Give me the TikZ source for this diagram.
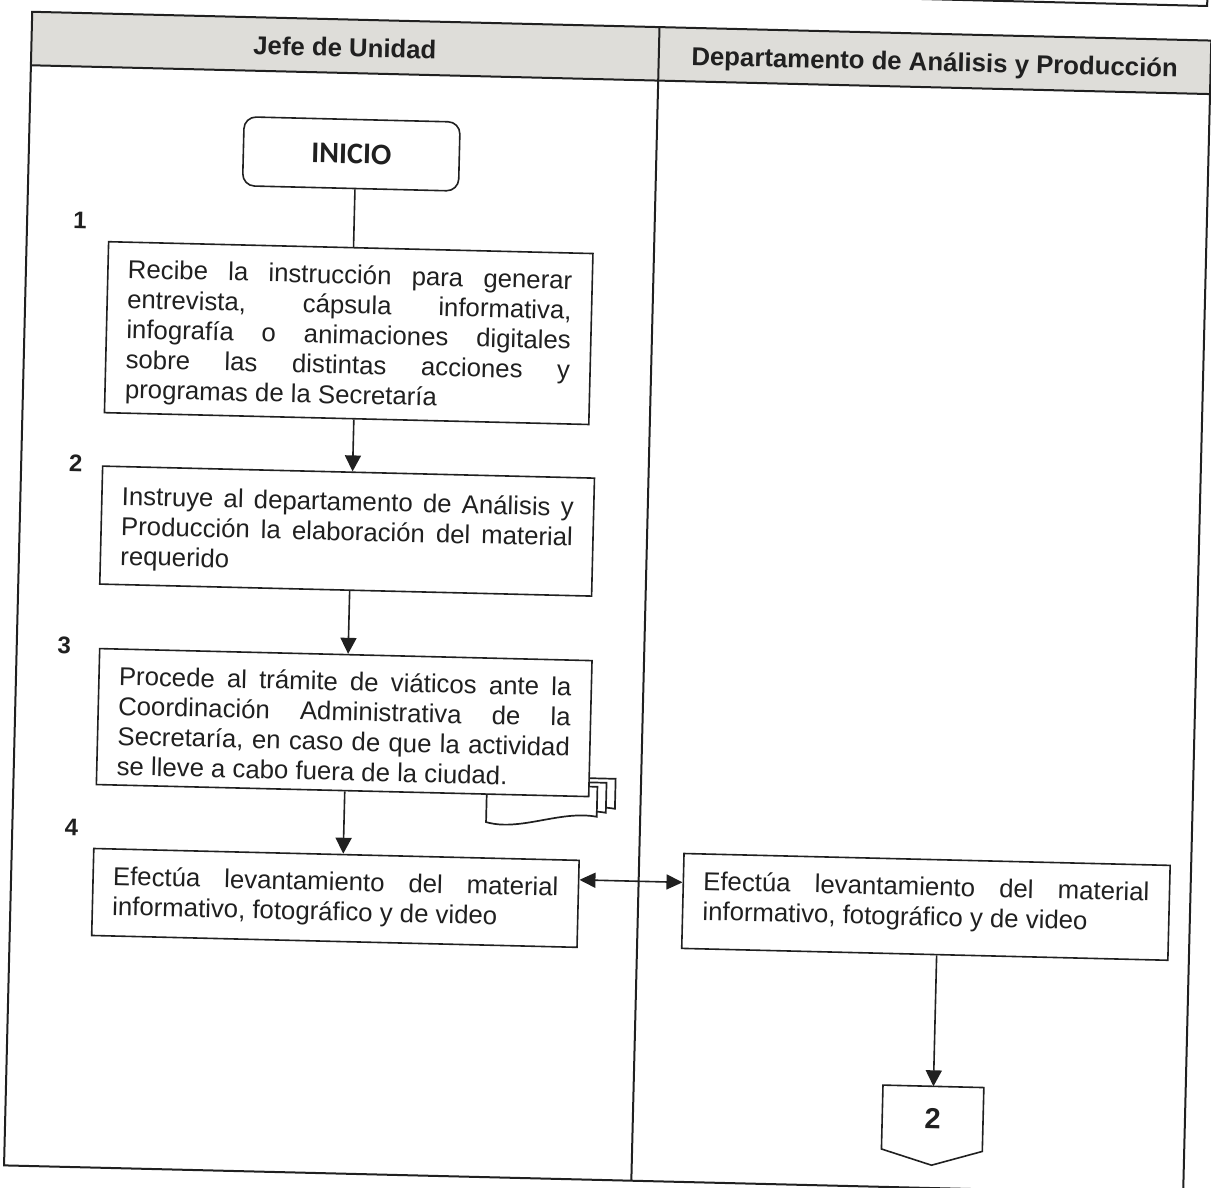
\documentclass[tikz,border=0pt]{standalone}
\usepackage{fontspec}
\setmainfont{Liberation Sans}
\newfontfamily\calibrifont{Carlito}
\usetikzlibrary{arrows.meta,calc}
\definecolor{ink}{RGB}{32,32,32}
\definecolor{hdr}{RGB}{222,221,217}
\newcommand{\boxtext}[4]{\parbox[c][#2pt][t]{#1pt}{\fontsize{25.75pt}{30pt}\selectfont\tolerance=10000\hbadness=10000\hyphenpenalty=10000\rule{0pt}{#3pt}#4}}
\begin{document}
\begin{tikzpicture}[x=1pt,y=1pt,
  lane/.style={draw=ink, line width=2pt},
  stepbox/.style={draw=ink, line width=1.6pt, fill=white, inner xsep=20pt, inner ysep=0pt, text=ink},
  stepnum/.style={font=\fontsize{24pt}{28pt}\selectfont\bfseries, text=ink},
  hdrtext/.style={font=\fontsize{25.75pt}{30pt}\selectfont\bfseries, text=ink, text height=18.5pt, text depth=0pt, inner sep=0pt},
  plain/.style={draw=ink, line width=1.6pt},
  flow/.style={draw=ink, line width=1.6pt, -{Triangle[length=16pt,width=16pt]}},
  dflow/.style={draw=ink, line width=1.6pt, {Triangle[length=16pt,width=15pt]}-{Triangle[length=16pt,width=15pt]}},
  page/.style={fill=white, draw=ink, line width=1.7pt}
  ]
\useasboundingbox (0,0) rectangle (1211,-1188);
\fill[white] (0,0) rectangle (1211,-1188);
\clip (0,0) rectangle (1211,-1188);
\begin{scope}[rotate=-1.4, transform shape]
  % piece of the box above
  \draw[lane] (880,23.5) -- (1207,23.5) -- (1207,80);
  % swimlane frame
  \fill[hdr] (32.5,-11) rectangle (1212,-64.5);
  \draw[lane] (32.5,-11) rectangle (1212,-1165);
  \draw[lane] (32.5,-64.5) -- (1212,-64.5);
  \draw[lane] (660,-11) -- (660,-1165);
  \node[hdrtext] (h1) at (346,-39) {Jefe de Unidad};
  \node[hdrtext] (h2) at (936,-39) {Departamento de Análisis y Producción};
  % start
  \node[draw=ink, line width=1.6pt, rounded corners=12pt, minimum width=216pt, minimum height=69pt, inner sep=0pt, font=\calibrifont\bfseries\fontsize{30pt}{34pt}\selectfont, text=ink] (inicio) at (355,-145.3) {INICIO};
  % step numbers
  \node[stepnum] (n1) at (85.4,-218) {1};
  \node[stepnum] (n2) at (87.1,-461.5) {2};
  \node[stepnum] (n3) at (80.1,-643.4) {3};
  \node[stepnum] (n4) at (91.6,-825) {4};
  % boxes
  \node[stepbox] (b1) at (356.75,-324.5) {\boxtext{444.5}{171}{36.2}{Recibe la instrucción para generar\linebreak entrevista, cápsula informativa,\linebreak infografía o animaciones digitales\linebreak sobre las distintas acciones y\linebreak programas de la Secretaría}};
  \node[stepbox] (b2) at (360,-522.5) {\boxtext{452}{118}{38.5}{Instruye al departamento de Análisis y\linebreak Producción la elaboración del material\linebreak requerido}};
  % multidocument behind step 3
  \foreach \s in {2,1,0} {
    \begin{scope}[shift={(9*\s,4.2*\s)}]
      \path[page] (506,-772) -- (616.5,-772) -- (616.5,-802) .. controls (580,-796) and (540,-819) .. (506,-810) -- cycle;
    \end{scope}
  }
  \node[stepbox] (b3) at (361.75,-714) {\boxtext{452.5}{136}{36}{Procede al trámite de viáticos ante la\linebreak Coordinación Administrativa de la\linebreak Secretaría, en caso de que la actividad\linebreak se lleve a cabo fuera de la ciudad.}};
  \node[stepbox] (b4) at (357.25,-889.5) {\boxtext{445.5}{87}{36.2}{Efectúa levantamiento del material\linebreak informativo, fotográfico y de video}};
  \node[stepbox] (b5) at (947.85,-884.05) {\boxtext{446.3}{94.9}{36.2}{Efectúa levantamiento del material\linebreak informativo, fotográfico y de video}};
  % off-page connector
  \node[minimum width=100.5pt, minimum height=63.5pt, inner sep=0pt, font=\fontsize{29pt}{32pt}\selectfont\bfseries, text=ink] (conn) at (959.75,-1095.25) {2};
  \draw[plain] (conn.north west) -- (conn.north east) -- (conn.south east) -- ($(conn.south)+(0,-15)$) -- (conn.south west) -- cycle;
  % connectors
  \draw[plain] ($(inicio.south)+(4.5,0)$) -- ($(b1.north)+(2.75,0)$);
  \draw[flow] ($(b1.south)+(7.25,0)$) -- ($(b2.north)+(4,0)$);
  \draw[flow] ($(b2.south)+(4,0)$) -- ($(b3.north)+(2.25,0)$);
  \draw[flow] ($(b3.south)+(2.25,0)$) -- ($(b4.north)+(6.75,0)$);
  \draw[dflow] ($(b4.east)+(0,24)$) -- ($(b5.west)+(0,18.55)$);
  \draw[flow] ($(b5.south)+(11.9,0)$) -- (conn.north);
\end{scope}
\end{tikzpicture}
\end{document}
